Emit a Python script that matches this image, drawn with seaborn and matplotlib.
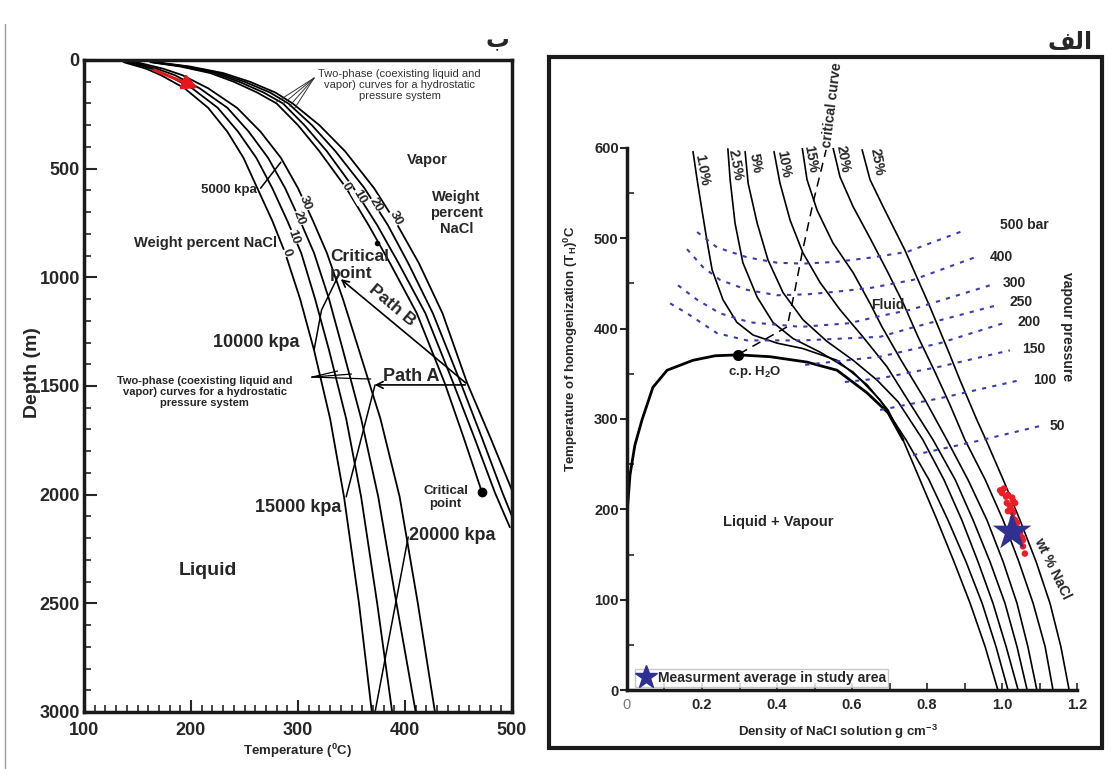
import matplotlib
matplotlib.use("Agg")
import matplotlib.pyplot as plt
from matplotlib.lines import Line2D
from matplotlib.patches import Rectangle
from matplotlib.ticker import MultipleLocator
import seaborn as sns

sns.set_style("white")
plt.rcParams['font.family'] = ['Liberation Sans', 'DejaVu Sans']
plt.rcParams['mathtext.fontset'] = 'custom'
plt.rcParams['mathtext.rm'] = 'Liberation Sans'
plt.rcParams['mathtext.bf'] = 'Liberation Sans:bold'
plt.rcParams['mathtext.it'] = 'Liberation Sans:italic'

# %% left panel (b): boiling point curves, temperature (C) vs depth (m)
depth_liq = [10, 40, 70, 130, 220, 330, 450, 590, 740, 888, 1100, 1335, 1650, 2010, 2500, 3000]
bp_liq_0 = [137, 158, 172, 194, 216, 234, 249, 262, 276, 288, 302, 315, 330, 343, 357, 369]
bp_liq_10 = [141, 163, 178, 201, 225, 244, 261, 276, 290, 303, 316, 329, 345, 359, 374, 388]
bp_liq_20 = [145, 168, 185, 208, 234, 254, 272, 288, 302, 315, 329, 342, 359, 375, 392, 410]
bp_liq_30 = [149, 174, 192, 216, 243, 265, 284, 300, 314, 327, 342, 357, 377, 395, 412, 428]

depth_vap_0 = [10, 30, 60, 100, 150, 200, 300, 420, 589, 760, 935, 1165, 1485, 1740, 1990]
bp_vap_0 = [162, 190, 218, 240, 262, 280, 300, 320, 345, 366, 386, 411, 437, 455, 472]
depth_vap_10 = [10, 30, 60, 100, 150, 200, 300, 420, 589, 760, 935, 1165, 1485, 1740, 1990, 2150]
bp_vap_10 = [164, 193, 222, 245, 268, 286, 306, 327, 352, 374, 394, 419, 445, 465, 484, 498]
depth_vap_20 = [10, 30, 60, 100, 150, 200, 300, 420, 589, 760, 935, 1165, 1485, 1740, 1990, 2100]
bp_vap_20 = [165, 196, 226, 250, 274, 291, 313, 335, 362, 384, 403, 426, 452, 472, 491, 500]
depth_vap_30 = [10, 30, 60, 100, 150, 200, 300, 420, 589, 760, 935, 1165, 1485, 1740, 1980]
bp_vap_30 = [167, 199, 230, 255, 279, 295, 320, 344, 371, 393, 413, 435, 458, 480, 500]

# isobars (T, depth)
p5000_t, p5000_d = [265, 284], [590, 470]
p10000_t, p10000_d = [315, 322, 338], [1335, 1150, 990]
p15000_t, p15000_d = [345, 372], [2010, 1495]
p20000_t, p20000_d = [372, 403], [3000, 2195]

crit_liq = (338, 1000)
crit_vap = (472, 1990)
path_start = (459, 1495)
path_a_end = (369, 1495)

# %% right panel (a): density vs homogenization temperature
dens_1 = [0.176, 0.187, 0.200, 0.213, 0.227, 0.256, 0.293, 0.336, 0.400, 0.469, 0.560, 0.640, 0.696, 0.736, 0.781, 0.827, 0.872, 0.915, 0.955, 0.989]
temp_1 = [596, 565, 531, 498, 465, 432, 407, 393, 384, 378, 365, 338, 310, 277, 233, 188, 142, 96, 48, 0]
dens_2_5 = [0.269, 0.275, 0.288, 0.309, 0.347, 0.389, 0.443, 0.515, 0.603, 0.675, 0.744, 0.805, 0.856, 0.904, 0.947, 0.984, 1.016]
temp_2_5 = [599, 565, 517, 473, 435, 407, 389, 374, 352, 321, 277, 233, 188, 142, 96, 48, 0]
dens_5 = [0.315, 0.323, 0.347, 0.376, 0.416, 0.469, 0.533, 0.603, 0.667, 0.723, 0.789, 0.845, 0.893, 0.936, 0.976, 1.011, 1.043]
temp_5 = [596, 561, 517, 476, 440, 410, 386, 365, 343, 319, 277, 233, 188, 142, 96, 48, 0]
dens_10 = [0.392, 0.408, 0.435, 0.469, 0.515, 0.568, 0.629, 0.693, 0.749, 0.816, 0.875, 0.923, 0.968, 1.008, 1.040, 1.067]
temp_10 = [596, 561, 520, 484, 451, 421, 391, 358, 321, 277, 233, 188, 142, 96, 48, 0]
dens_15 = [0.467, 0.480, 0.507, 0.549, 0.603, 0.648, 0.680, 0.731, 0.795, 0.853, 0.909, 0.960, 1.003, 1.040, 1.069, 1.093]
temp_15 = [601, 565, 531, 495, 462, 428, 402, 365, 321, 277, 233, 188, 142, 96, 48, 0]
dens_20 = [0.549, 0.568, 0.603, 0.651, 0.696, 0.739, 0.776, 0.819, 0.861, 0.901, 0.955, 1.003, 1.045, 1.083, 1.115, 1.136]
temp_20 = [601, 568, 535, 498, 462, 426, 391, 354, 316, 277, 233, 188, 142, 96, 48, 0]
dens_25 = [0.627, 0.648, 0.683, 0.741, 0.808, 0.859, 0.888, 0.933, 0.957, 1.003, 1.048, 1.091, 1.128, 1.157, 1.179]
temp_25 = [598, 565, 535, 487, 424, 373, 343, 299, 277, 233, 188, 142, 96, 48, 0]
wt_labels = ['1.0%', '2.5%', '5%', '10%', '15%', '20%', '25%']
wt_label_x = [0.200, 0.288, 0.341, 0.416, 0.488, 0.576, 0.667]
wt_label_y = [576, 581, 583, 582, 588, 588, 585]

dome_d = [0.0, 0.008, 0.021, 0.040, 0.069, 0.107, 0.176, 0.235, 0.296, 0.381, 0.480, 0.560, 0.640, 0.696, 0.736]
dome_t = [194, 238, 271, 299, 335, 354, 365, 370, 371, 369, 363, 354, 329, 307, 277]
cp_h2o = (0.296, 371)

crit_curve_d = [0.299, 0.427, 0.448, 0.467, 0.496, 0.531]
crit_curve_t = [372, 402, 443, 484, 539, 598]

# vapour pressure isobars (bar)
bar_500_d = [0.187, 0.240, 0.320, 0.400, 0.469, 0.560, 0.656, 0.747, 0.901]
bar_500_t = [507, 490, 479, 473, 472, 474, 479, 485, 509]
bar_400_d = [0.160, 0.203, 0.248, 0.320, 0.400, 0.480, 0.560, 0.648, 0.763, 0.928]
bar_400_t = [488, 468, 454, 443, 437, 438, 441, 445, 454, 479]
bar_300_d = [0.136, 0.187, 0.248, 0.328, 0.464, 0.592, 0.675, 0.757, 0.968]
bar_300_t = [448, 432, 417, 407, 402, 406, 414, 421, 448]
bar_250_d = [0.115, 0.160, 0.240, 0.320, 0.469, 0.675, 0.768, 0.987]
bar_250_t = [428, 417, 395, 387, 387, 391, 402, 426]
bar_200_d = [0.475, 0.675, 0.835, 1.003]
bar_200_t = [360, 369, 384, 406]
bar_150_d = [0.581, 0.675, 0.835, 1.021]
bar_150_t = [341, 345, 358, 376]
bar_100_d = [0.675, 0.835, 1.048]
bar_100_t = [310, 323, 343]
bar_50_d = [0.763, 0.928, 1.109]
bar_50_t = [260, 275, 293]
bar_labels = ['500 bar', '400', '300', '250', '200', '150', '100', '50']
bar_label_d = [0.995, 0.968, 1.003, 1.021, 1.040, 1.053, 1.083, 1.128]
bar_label_t = [515, 479, 451, 429, 407, 378, 343, 292]

# fluid inclusion measurements
incl_d = [0.995, 1.005, 1.000, 1.011, 1.016, 1.027, 1.029, 1.035, 1.013, 1.021, 1.016,
          1.027, 1.029, 1.029, 1.035, 1.040, 1.048, 1.053, 1.056, 1.056, 1.061]
incl_t = [221, 223, 218, 214, 216, 213, 210, 207, 207, 204, 198,
          199, 196, 190, 188, 185, 174, 169, 166, 159, 151]
avg_d, avg_t = 1.027, 175

STAR = '#2e3192'
BLUE = '#3b3bb0'


def curve(ax, x, y, **kw):
    sns.lineplot(x=x, y=y, ax=ax, sort=False, estimator=None, legend=False, **kw)


fig = plt.figure(figsize=(11.11, 7.69), dpi=100)

# %% left panel
ax1 = fig.add_axes([84 / 1111, 57 / 769, 428 / 1111, 652 / 769])
for t in [bp_liq_0, bp_liq_10, bp_liq_20, bp_liq_30]:
    curve(ax1, t, depth_liq, color='black', lw=1.3)
for t, d in [(bp_vap_0, depth_vap_0), (bp_vap_10, depth_vap_10), (bp_vap_20, depth_vap_20), (bp_vap_30, depth_vap_30)]:
    curve(ax1, t, d, color='black', lw=1.3)

for tt, dd in [(p5000_t, p5000_d), (p10000_t, p10000_d), (p15000_t, p15000_d), (p20000_t, p20000_d)]:
    curve(ax1, tt, dd, color='black', lw=1.1)

ax1.annotate('', xy=crit_liq, xytext=path_start,
             arrowprops=dict(arrowstyle='->', color='black', lw=1.2, mutation_scale=12))
ax1.annotate('', xy=path_a_end, xytext=path_start,
             arrowprops=dict(arrowstyle='->', color='black', lw=1.2, mutation_scale=12))
ax1.plot(*crit_vap, 'o', color='black', ms=6)
ax1.plot(374, 842, 'o', color='black', ms=3)

# red arrow near the surface
ax1.annotate('', xy=(209, 134), xytext=(163, 41),
             arrowprops=dict(arrowstyle='-|>', color='#e8161b', lw=2.2, mutation_scale=22))

# pointer lines for the two-phase notes
for tx, dx in [(280, 193), (286, 202), (292, 212), (297, 221)]:
    ax1.plot([315, tx], [83, dx], color='#333333', lw=0.7)
for tx, dx in [(337, 1431), (350, 1445), (368, 1468)]:
    ax1.plot([313, tx], [1459, dx], color='black', lw=0.9)

# wt% labels on the curves
for lab, tx, dy, rot in [('0', 289, 888, -71), ('10', 296, 814, -71), ('20', 301, 727, -70), ('30', 307, 658, -69),
                         ('0', 345, 585, -60), ('10', 357, 628, -60), ('20', 373, 665, -60), ('30', 391, 727, -62)]:
    ax1.text(tx, dy, lab, rotation=rot, ha='center', va='center', fontsize=9.5, fontweight='bold',
             bbox=dict(fc='white', ec='none', pad=0.05))

bold = dict(fontweight='bold', ha='center', va='center')
ax1.text(395, 115, 'Two-phase (coexisting liquid and\nvapor) curves for a hydrostatic\npressure system',
         fontsize=8, color='#333333', ha='center', va='center', linespacing=1.15)
ax1.text(421, 460, 'Vapor', fontsize=10.5, **bold)
ax1.text(448, 704, 'Weight\npercent\nNaCl', fontsize=10.5, linespacing=1.15, **bold)
ax1.text(262, 598, '5000 kpa', fontsize=9.5, fontweight='bold', ha='right', va='center')
ax1.text(214, 842, 'Weight percent NaCl', fontsize=10.5, **bold)
ax1.text(330, 943, 'Critical\npoint', fontsize=12.5, fontweight='bold', ha='left', va='center', linespacing=1.1)
ax1.text(388, 1127, 'Path B', fontsize=12.5, rotation=-40, **bold)
ax1.text(261, 1302, '10000 kpa', fontsize=13, **bold)
ax1.text(406, 1458, 'Path A', fontsize=13, **bold)
ax1.text(213, 1528, 'Two-phase (coexisting liquid and\nvapor) curves for a hydrostatic\npressure system',
         fontsize=8, linespacing=1.15, **bold)
ax1.text(300, 2061, '15000 kpa', fontsize=13, **bold)
ax1.text(438, 2015, 'Critical\npoint', fontsize=9.5, linespacing=1.1, **bold)
ax1.text(444, 2186, '20000 kpa', fontsize=13, **bold)
ax1.text(216, 2351, 'Liquid', fontsize=14, **bold)

ax1.set_xlim(100, 500)
ax1.set_ylim(3000, 0)
ax1.set_xticks([100, 200, 300, 400, 500])
ax1.set_xticklabels(['100', '200', '300', '400', '500'], fontweight='bold', fontsize=13)
ax1.set_yticks([0, 500, 1000, 1500, 2000, 2500, 3000])
ax1.set_yticklabels(['0', '500', '1000', '1500', '2000', '2500', '3000'], fontweight='bold', fontsize=13)
ax1.xaxis.set_minor_locator(MultipleLocator(10))
ax1.yaxis.set_minor_locator(MultipleLocator(100))
ax1.tick_params(which='major', direction='in', length=9, width=1.5)
ax1.tick_params(which='minor', direction='in', length=5, width=1.2)
ax1.tick_params(axis='x', which='both', bottom=True, top=False, pad=7)
ax1.tick_params(axis='y', which='both', left=True, right=False, pad=3)
for s in ax1.spines.values():
    s.set_linewidth(2.5)
    s.set_color('#1a1a1a')
ax1.set_xlabel(r'Temperature ($^{\mathbf{0}}$C)', fontsize=9.5, fontweight='bold')
ax1.xaxis.set_label_coords(0.5, -0.045)
ax1.set_ylabel('Depth (m)', fontsize=14, fontweight='bold')
ax1.yaxis.set_label_coords(-0.10, 0.52)

# %% right panel
ax2 = fig.add_axes([627 / 1111, 79 / 769, 450 / 1111, 542 / 769])
for dd, tt in [(dens_1, temp_1), (dens_2_5, temp_2_5), (dens_5, temp_5), (dens_10, temp_10),
               (dens_15, temp_15), (dens_20, temp_20), (dens_25, temp_25)]:
    curve(ax2, dd, tt, color='black', lw=1.2)
curve(ax2, dome_d, dome_t, color='black', lw=2.0)
curve(ax2, crit_curve_d, crit_curve_t, color='black', lw=1.1, linestyle=(0, (6, 4)))
ax2.plot(*cp_h2o, 'o', color='black', ms=7)

for dd, tt in [(bar_500_d, bar_500_t), (bar_400_d, bar_400_t), (bar_300_d, bar_300_t), (bar_250_d, bar_250_t),
               (bar_200_d, bar_200_t), (bar_150_d, bar_150_t), (bar_100_d, bar_100_t), (bar_50_d, bar_50_t)]:
    curve(ax2, dd, tt, color=BLUE, lw=1.5, linestyle=(0, (2, 3)))

for lab, x, y in zip(bar_labels, bar_label_d, bar_label_t):
    ax2.text(x, y, lab, fontsize=10, fontweight='bold', ha='left', va='center', clip_on=False)
for lab, x, y in zip(wt_labels, wt_label_x, wt_label_y):
    ax2.text(x, y, lab, fontsize=10, fontweight='bold', ha='center', va='center', rotation=-80)

sns.scatterplot(x=incl_d, y=incl_t, ax=ax2, color='#ee1c24', s=22, edgecolor='none', zorder=4)
sns.scatterplot(x=[avg_d], y=[avg_t], ax=ax2, color=STAR, marker='*', s=850, edgecolor='none', zorder=5)

ax2.text(0.547, 648, 'critical curve', fontsize=10, fontweight='bold', rotation=83,
         ha='center', va='center', clip_on=False)
ax2.text(0.341, 352, r'c.p. H$_{\mathbf{2}}$O', fontsize=9.5, fontweight='bold', ha='center', va='center')
ax2.text(0.696, 426, 'Fluid', fontsize=10, fontweight='bold', ha='center', va='center')
ax2.text(0.403, 186, 'Liquid + Vapour', fontsize=10.5, fontweight='bold', ha='center', va='center')
ax2.text(1.173, 402, 'vapour pressure', fontsize=10, fontweight='bold', rotation=-90,
         ha='center', va='center', clip_on=False)
ax2.text(1.133, 135, 'wt % NaCl', fontsize=10, fontweight='bold', rotation=-64,
         ha='center', va='center', clip_on=False)

ax2.set_xlim(0, 1.2)
ax2.set_ylim(0, 600)
ax2.set_xticks([0, 0.2, 0.4, 0.6, 0.8, 1.0, 1.2])
ax2.set_xticklabels(['0', '0.2', '0.4', '0.6', '0.8', '1.0', '1.2'], fontweight='bold', fontsize=10.5)
xl = ax2.get_xticklabels()[0]
xl.set_fontweight('normal')
xl.set_color('#777777')
ax2.set_yticks([0, 100, 200, 300, 400, 500, 600])
ax2.set_yticklabels(['0', '100', '200', '300', '400', '500', '600'], fontweight='bold', fontsize=10.5)
ax2.xaxis.set_minor_locator(MultipleLocator(0.1))
ax2.yaxis.set_minor_locator(MultipleLocator(50))
ax2.tick_params(axis='x', which='both', direction='in', length=5, width=1.2, bottom=True, pad=6)
ax2.tick_params(axis='y', which='major', direction='out', length=5, width=1.5, left=True, pad=1)
ax2.tick_params(axis='y', which='minor', direction='in', length=5, width=1.2, left=True)
sns.despine(ax=ax2)
for s in ['left', 'bottom']:
    ax2.spines[s].set_linewidth(2.5)
    ax2.spines[s].set_color('#1a1a1a')
ax2.set_xlabel(r'Density of NaCl solution g cm$^{\mathbf{-3}}$', fontsize=9.5, fontweight='bold')
ax2.xaxis.set_label_coords(0.47, -0.06)
ax2.set_ylabel(r'Temperature of homogenization (T$_{\mathbf{H}}$)$^{\mathbf{0}}$C', fontsize=9.5, fontweight='bold')
ax2.yaxis.set_label_coords(-0.105, 0.63)

star_handle = Line2D([], [], marker='*', color=STAR, ls='none', markersize=17)
ax2.legend([star_handle], ['Measurment average in study area'], loc='lower left',
           bbox_to_anchor=(0.012, 0.0), prop={'weight': 'bold', 'size': 10},
           frameon=True, fancybox=False, edgecolor='#bbbbbb', borderpad=0.15,
           handletextpad=0.2, handlelength=1.3, borderaxespad=0.2)

# panel frame and page edge
fig.add_artist(Rectangle((549 / 1111, 21 / 769), 553 / 1111, 691 / 769, transform=fig.transFigure,
                         fill=False, lw=3, ec='#1a1a1a'))
fig.add_artist(Line2D([5 / 1111, 5 / 1111], [0, 745 / 769], transform=fig.transFigure, color='#999999', lw=1))

# panel letters (Persian)
fig.text(497 / 1111, 1 - 40 / 769, '\u0628', fontsize=17, fontweight='bold', ha='center', va='center')
fig.text(1070 / 1111, 1 - 42 / 769, '\ufed2\ufedf\ufe8d', fontsize=17, fontweight='bold', ha='center', va='center')

fig.savefig('out.png', dpi=100)
